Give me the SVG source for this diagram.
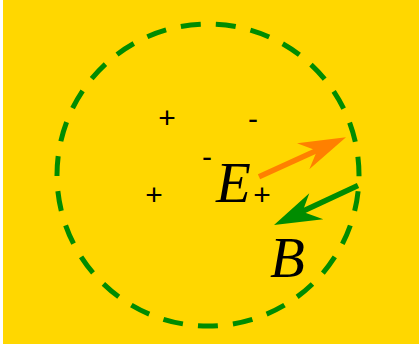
<svg xmlns="http://www.w3.org/2000/svg" width="419" height="344" viewBox="0 0 419 344">
<style>
.bg{fill:#FFD700}
.ring{fill:none;stroke:#008C00;stroke-width:5;stroke-dasharray:20 15.14;stroke-dashoffset:18.8}
.sign{font-family:"Liberation Sans",Arial,sans-serif;font-size:30px;fill:#000;text-anchor:middle}
.lbl{font-family:"Liberation Serif","Times New Roman",serif;font-style:italic;font-size:57px;fill:#000}
.eshaft{stroke:#FF8000;stroke-width:5.5;fill:none}
.ehead{fill:#FF8000}
.bshaft{stroke:#008C00;stroke-width:5.5;fill:none}
.bhead{fill:#008C00}
</style>
<rect class="bg" x="3" y="0" width="416" height="344"/>
<g id="region">
<circle class="ring" cx="208" cy="175" r="151"/>
</g>
<g id="charges">
<text class="sign" x="167" y="128">+</text>
<text class="sign" x="253" y="129">-</text>
<text class="sign" x="207" y="167">-</text>
<text class="sign" x="154" y="205">+</text>
<text class="sign" x="262" y="205">+</text>
</g>
<g id="connectors">
<g id="E-field">
<line class="eshaft" x1="259" y1="176.7" x2="320" y2="149"/>
<polygon class="ehead" points="346,137.3 297,143.3 317,150.8 309.3,169.3"/>
</g>
<g id="B-field">
<line class="bshaft" x1="358" y1="185.5" x2="300" y2="212.5"/>
<polygon class="bhead" points="274,225 309.3,193.3 302.5,211.8 323.3,219.3"/>
</g>
</g>
<g id="label-E"><text class="lbl" x="216" y="202">E</text></g>
<g id="label-B"><text class="lbl" x="270" y="277">B</text></g>
</svg>
